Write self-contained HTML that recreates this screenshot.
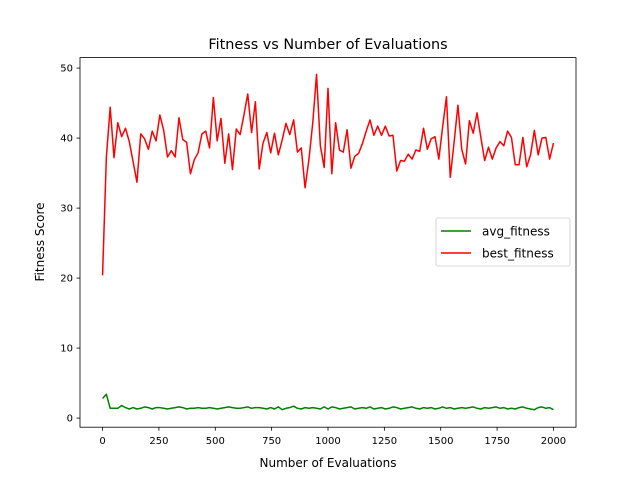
<!DOCTYPE html>
<html><head><meta charset="utf-8"><style>body{margin:0;background:#fff}svg{display:block;font-family:"DejaVu Sans","Liberation Sans",sans-serif}</style></head>
<body>
<svg id="chart" width="640" height="480" viewBox="0 0 640 480">
<rect width="640" height="480" fill="#fff"/>
<text x="328" y="49" text-anchor="middle" font-size="14.4">Fitness vs Number of Evaluations</text>
<g id="plot"></g>
<rect x="80" y="57.6" width="496" height="369.6" fill="none" stroke="#000" stroke-width="0.8"/>
<text x="328" y="467" text-anchor="middle" font-size="12">Number of Evaluations</text>
<text transform="translate(44,242) rotate(-90)" text-anchor="middle" font-size="12">Fitness Score</text>
<g>
<rect x="436" y="218" width="134" height="48" rx="2" fill="#fff" fill-opacity="0.8" stroke="#ccc" stroke-width="0.8"/>
<line x1="441" y1="231" x2="471" y2="231" stroke="green" stroke-width="1.6"/>
<text x="482" y="235.5" font-size="12">avg_fitness</text>
<line x1="441" y1="253" x2="471" y2="253" stroke="red" stroke-width="1.6"/>
<text x="482" y="257.5" font-size="12">best_fitness</text>
</g>
</svg>
<script>
const best=[20.4,37.3,44.4,37.2,42.2,40.2,41.4,39.5,36.6,33.7,40.6,39.9,38.4,41.0,39.6,43.3,41.1,37.3,38.2,37.3,42.9,39.8,39.4,34.9,36.9,37.9,40.6,41.0,38.6,45.8,39.6,42.8,36.4,40.6,35.5,41.3,40.5,43.3,46.3,40.8,45.2,35.6,39.3,40.8,37.9,40.7,37.6,39.7,42.1,40.5,42.6,38.0,38.6,32.9,36.9,42.1,49.1,38.9,35.8,47.1,34.9,
42.2,38.3,38.0,41.2,35.7,37.4,37.8,39.2,41.0,42.6,40.4,41.7,40.4,41.7,40.3,40.4,35.3,36.8,36.7,37.7,37.0,38.3,38.1,41.4,38.4,39.9,40.2,37.0,41.6,45.9,34.4,39.4,44.7,38.4,36.3,42.5,40.7,43.6,40.1,36.8,38.7,37.0,38.6,39.5,38.9,41.0,40.1,36.2,36.2,40.1,35.9,37.6,41.1,37.6,40.0,40.1,37.0,39.3];
const avg=[2.8,3.4,1.4,1.4,1.4,1.8,1.5,1.3,1.5,1.3,1.4,1.6,1.5,1.3,1.5,1.5,1.4,1.3,1.4,1.5,1.6,1.5,1.3,1.4,1.4,1.5,1.4,1.4,1.5,1.4,1.3,1.4,1.5,1.6,1.5,1.4,1.4,1.5,1.6,1.4,1.5,1.5,1.4,1.3,1.5,1.3,1.6,1.2,1.4,1.5,1.7,1.4,1.3,1.5,1.4,1.5,1.4,1.3,1.6,1.3,
1.6,1.5,1.3,1.4,1.5,1.6,1.3,1.4,1.5,1.4,1.6,1.3,1.4,1.5,1.3,1.4,1.6,1.5,1.3,1.4,1.5,1.6,1.4,1.3,1.5,1.4,1.5,1.3,1.4,1.6,1.4,1.5,1.3,1.4,1.5,1.4,1.5,1.6,1.4,1.3,1.5,1.4,1.5,1.6,1.4,1.5,1.3,1.4,1.3,1.5,1.6,1.4,1.3,1.2,1.5,1.6,1.4,1.5,1.2];
const xTicks=[0,250,500,750,1000,1250,1500,1750,2000];
const yTicks=[0,10,20,30,40,50];
const maxEval=2000;
const X0=80,X1=576,Y0=57.6,Y1=427.2,xmin=-100,xmax=2100,ymin=-1.3,ymax=51.5;
const sx=v=>X0+(v-xmin)/(xmax-xmin)*(X1-X0);
const sy=v=>Y1-(v-ymin)/(ymax-ymin)*(Y1-Y0);
const NS='http://www.w3.org/2000/svg';
const g=document.getElementById('plot');
function mk(t,a){const e=document.createElementNS(NS,t);for(const k in a)e.setAttribute(k,a[k]);g.appendChild(e);return e;}
xTicks.forEach(t=>{
 const l=mk('line',{x1:sx(t),x2:sx(t),y1:Y1,y2:Y1+3.5,stroke:'#000','stroke-width':0.8});
 
 
 const tx=mk('text',{x:sx(t),y:Y1+17,'text-anchor':'middle','font-size':10});
 
 
 tx.textContent=t;
});
yTicks.forEach(t=>{
 const l=mk('line',{x1:X0-3.5,x2:X0,y1:sy(t),y2:sy(t),stroke:'#000','stroke-width':0.8});
 
 
 const tx=mk('text',{x:X0-7,y:sy(t)+3.5,'text-anchor':'end','font-size':10});
 
 
 tx.textContent=t;
});
function line(arr,color,name){
 const n=arr.length;
 const pts=arr.map((v,i)=>sx(i*maxEval/(n-1)).toFixed(2)+','+sy(v).toFixed(2)).join(' ');
 const p=mk('polyline',{points:pts,fill:'none',stroke:color,'stroke-width':1.5,'stroke-linejoin':'round'});
 
 
}
line(avg,'green','avg-fitness-line');
line(best,'red','best-fitness-line');
</script>
</body></html>
